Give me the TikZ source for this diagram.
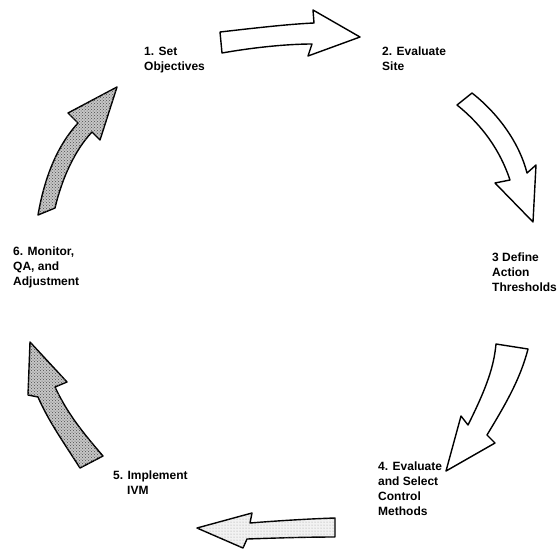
\documentclass[tikz,border=0pt]{standalone}
\usepackage{fontspec}
\setmainfont{Liberation Sans}
\usetikzlibrary{patterns}
\begin{document}
\begin{tikzpicture}[x=1pt,y=-1pt,
  lbl/.style={anchor=north west,inner sep=0pt,align=left,font=\fontsize{12}{15}\selectfont\bfseries},
  blockarrow/.style={draw=black,line width=1.4pt,line join=round},
  whitearrow/.style={blockarrow,fill=white},
  darkarrow/.style={blockarrow,fill=gray!45,postaction={pattern=crosshatch dots,pattern color=black!70}},
  lightarrow/.style={blockarrow,fill=gray!10,postaction={pattern=dots,pattern color=gray!80}}]
\useasboundingbox (0,0) rectangle (559,558);
\fill[white] (0,0) rectangle (559,558);

% labels
\node[lbl] (s1) at (144,47) {1. Set\\Objectives};
\node[lbl] (s2) at (382,47) {2. Evaluate\\Site};
\node[lbl] (s3) at (492,253) {3 Define\\Action\\Thresholds};
\node[lbl] (s4) at (378,462) {4. Evaluate\\and Select\\Control\\Methods};
\node[lbl] (s5) at (113,471) {5. Implement\\\hspace*{14pt}IVM};
\node[lbl] (s6) at (13,247) {6. Monitor,\\QA, and\\Adjustment};

% arrow 1 (s1 -> s2)
\draw[whitearrow] (220,32) .. controls (255,28) and (290,24) .. (314,23)
  -- (313,10) -- (360,37) -- (308,56) -- (312,44)
  .. controls (285,44) and (250,48) .. (222,53) -- cycle;

% arrow 2 (s2 -> s3)
\draw[whitearrow] (472,93) .. controls (500,115) and (520,145) .. (527,173)
  -- (536,165) -- (533,222) -- (495,183) -- (510,180)
  .. controls (500,150) and (482,125) .. (457,105) -- cycle;

% arrow 3 (s3 -> s4)
\draw[whitearrow] (496,344) .. controls (494,365) and (488,385) .. (468,425)
  -- (461,416) -- (446,471) -- (495,443) -- (487,435)
  .. controls (505,405) and (520,380) .. (528,349) -- cycle;

% arrow 4 (s4 -> s5)
\draw[lightarrow] (335,518) .. controls (305,519) and (275,521) .. (250,523)
  -- (252,513) -- (197,528) -- (243,548) -- (247,539)
  .. controls (275,538) and (305,537) .. (335,537) -- cycle;

% arrow 5 (s5 -> s6)
\draw[darkarrow] (80,468) .. controls (62,440) and (48,420) .. (38,397)
  -- (28,395) -- (30,342) -- (67,382) -- (55,387)
  .. controls (68,415) and (85,435) .. (103,456) -- cycle;

% arrow 6 (s6 -> s1)
\draw[darkarrow] (38,215) .. controls (45,175) and (58,145) .. (78,123)
  -- (68,113) -- (117,87) -- (100,140) -- (92,132)
  .. controls (75,150) and (62,178) .. (55,208) -- cycle;
\end{tikzpicture}
\end{document}
